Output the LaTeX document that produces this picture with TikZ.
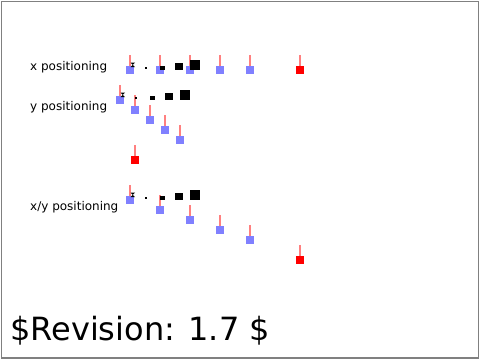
\documentclass[tikz,border=0pt]{standalone}
\usepackage{fontspec}
\setmainfont{DejaVu Sans}
\usepackage{tikz}
\definecolor{tickred}{HTML}{FF8080}
\definecolor{markblue}{HTML}{8080FF}
\definecolor{markred}{HTML}{FF0000}

\begin{document}
\begin{tikzpicture}[
  x=1pt, y=-1pt,
  marker/.style={fill=markblue, inner sep=0pt, minimum size=8pt},
  endmarker/.style={marker, fill=markred},
  tick/.style={tickred, line width=2pt},
  caption/.style={anchor=base west, inner sep=0pt, font=\fontsize{12}{14}\selectfont}
]
  \path[use as bounding box, fill=white] (0,0) rectangle (480,360);
  \draw[gray, line width=1.5pt] (1.5,1.5) rectangle (478.3,357.8);

  \node[caption] (xlabel) at (30,70) {x positioning};
  \node[caption] (ylabel) at (30,110) {y positioning};
  \node[caption] (xylabel) at (30,210) {x/y positioning};

  % markers: x row, y row, x/y row
  \foreach \i/\x in {1/130, 2/160, 3/190, 4/220, 5/250}
    \node[marker] (xm\i) at (\x,70) {};
  \node[endmarker] (xm6) at (300,70) {};
  \foreach \i/\x/\y in {1/120/100, 2/135/110, 3/150/120, 4/165/130, 5/180/140}
    \node[marker] (ym\i) at (\x,\y) {};
  \node[endmarker] (ym6) at (135,160) {};
  \foreach \i/\x/\y in {1/130/200, 2/160/210, 3/190/220, 4/220/230, 5/250/240}
    \node[marker] (xym\i) at (\x,\y) {};
  \node[endmarker] (xym6) at (300,260) {};

  \foreach \m in {xm, ym, xym}
    \foreach \i in {1,...,6}
      \draw[tick] (\m\i.north) -- ++(0,-11);

  % glyphs of growing size on each baseline
  \foreach \ox/\b in {130/70, 120/100, 130/200} {
    \fill (\ox+0.5,\b-7.5) -- (\ox+5,\b-7.5) -- (\ox+0.5,\b-3) -- (\ox+5,\b-3) -- cycle;
    \fill (\ox+15,\b-3) rectangle (\ox+17,\b-1);
    \fill (\ox+30,\b-4.5) rectangle (\ox+34.5,\b);
    \fill (\ox+45,\b-7.5) rectangle (\ox+52.5,\b);
    \fill (\ox+60,\b-10) rectangle (\ox+70,\b);
  }

  \node[anchor=base west, inner sep=0pt, font=\fontsize{32}{38}\selectfont] (revision) at (10,340) {\$Revision: 1.7 \$};
\end{tikzpicture}
\end{document}
